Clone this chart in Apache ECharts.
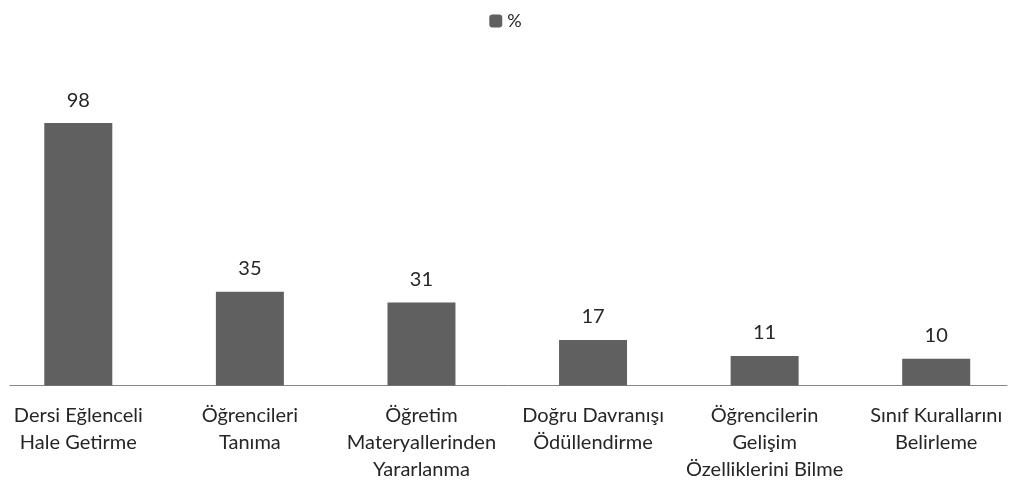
<!DOCTYPE html>
<html>
<head>
<meta charset="utf-8">
<script src="https://cdn.jsdelivr.net/npm/echarts@6/dist/echarts.min.js"></script>
<style>html,body{margin:0;padding:0;background:#fff}#c{width:1011px;height:488px}</style>
</head>
<body>
<div id="c"></div>
<script>
const categories = [
  "Dersi Eğlenceli\nHale Getirme",
  "Öğrencileri\nTanıma",
  "Öğretim\nMateryallerinden\nYararlanma",
  "Doğru Davranışı\nÖdüllendirme",
  "Öğrencilerin\nGelişim\nÖzelliklerini Bilme",
  "Sınıf Kurallarını\nBelirleme"
];
const seriesName = "%";
const values = [98, 35, 31, 17, 11, 10];

const FONT = "Lato";
const TXT = '#262626';
const chart = echarts.init(document.getElementById('c'), null, {renderer: 'canvas'});
chart.setOption({
  animation: false,
  backgroundColor: '#ffffff',
  legend: {
    top: 7, left: 'center',
    itemWidth: 13, itemHeight: 13, itemGap: 5,
    textStyle: {fontFamily: FONT, fontSize: 18, color: TXT},
    data: [seriesName]
  },
  grid: [
    {left: 78.3, right: 1011 - 936.2, top: 117.7, bottom: 102.5, containLabel: false},
    {left: 10, right: 4, top: 117.7, bottom: 102.5, containLabel: false}
  ],
  xAxis: [
    {
      type: 'category', gridIndex: 0, data: categories, boundaryGap: false,
      axisLine: {show: false}, axisTick: {show: false}, splitLine: {show: false},
      axisLabel: {interval: 0, margin: 17, fontFamily: FONT, fontSize: 20, lineHeight: 27, color: TXT}
    },
    {
      type: 'value', gridIndex: 1, min: 0, max: 1,
      axisLine: {show: true, lineStyle: {color: '#868686', width: 1}},
      axisTick: {show: false}, axisLabel: {show: false}, splitLine: {show: false}
    }
  ],
  yAxis: [
    {type: 'value', gridIndex: 0, min: 0, max: 100, show: false, splitLine: {show: false}},
    {type: 'value', gridIndex: 1, min: 0, max: 1, show: false, splitLine: {show: false}}
  ],
  series: [{
    name: seriesName, type: 'bar', data: values, barWidth: 68,
    itemStyle: {color: '#606060'},
    label: {show: true, position: 'top', distance: 13, fontFamily: FONT, fontSize: 20, color: TXT}
  }]
});
</script>
</body>
</html>
